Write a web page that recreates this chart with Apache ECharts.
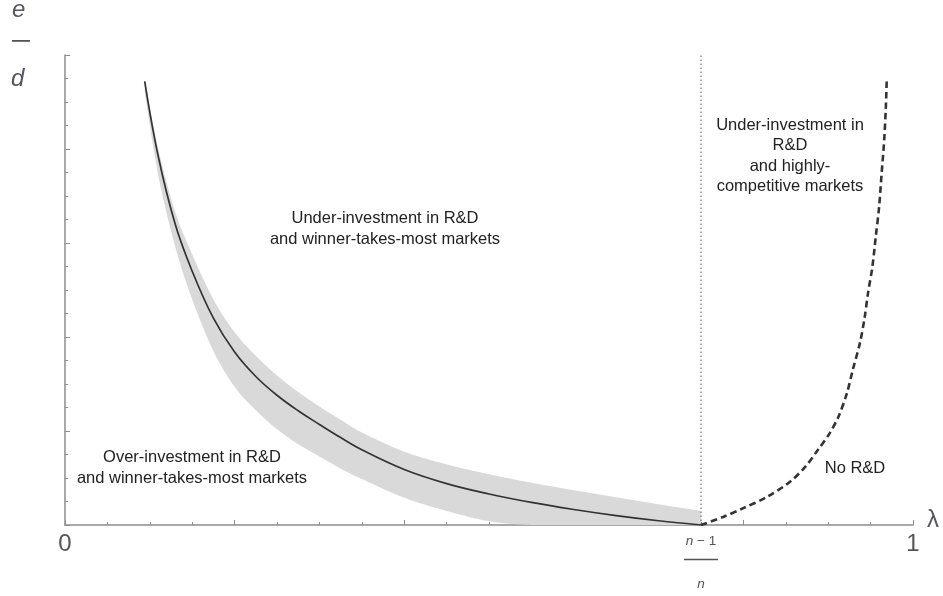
<!DOCTYPE html>
<html>
<head>
<meta charset="utf-8">
<script src="https://cdn.jsdelivr.net/npm/echarts@6/dist/echarts.min.js"></script>
<style>html,body{margin:0;padding:0;background:#fff}#c{width:943px;height:596px}</style>
</head>
<body>
<div id="c"></div>
<script>
// ---- data ----
const thresholdX = 0.75;           // (n-1)/n
const curveX     = [0.094, 0.11, 0.13, 0.15, 0.175, 0.2, 0.225, 0.25, 0.275, 0.3, 0.325, 0.35, 0.4, 0.45, 0.5, 0.55, 0.6, 0.65, 0.7, 0.75];
const curveY     = [4.72, 3.92, 3.20, 2.70, 2.20, 1.84, 1.58, 1.38, 1.215, 1.07, 0.93, 0.80, 0.59, 0.44, 0.33, 0.24, 0.165, 0.10, 0.045, 0];
const bandUpper  = [4.74, 4.00, 3.33, 2.88, 2.40, 2.05, 1.80, 1.59, 1.415, 1.26, 1.12, 0.985, 0.78, 0.645, 0.54, 0.45, 0.37, 0.295, 0.22, 0.15];
const bandLower  = [4.60, 3.72, 2.96, 2.40, 1.85, 1.47, 1.22, 1.02, 0.86, 0.73, 0.60, 0.49, 0.29, 0.15, 0.04, 0, 0, 0, 0, 0];
const dashX      = [0.75, 0.776, 0.8, 0.828, 0.855, 0.873, 0.888, 0.902, 0.912, 0.922, 0.929, 0.9375, 0.943, 0.947, 0.952, 0.956, 0.96, 0.963, 0.966, 0.968, 0.969];
const dashY      = [0, 0.085, 0.18, 0.30, 0.46, 0.62, 0.80, 0.98, 1.15, 1.40, 1.65, 1.94, 2.21, 2.47, 2.74, 3.06, 3.38, 3.74, 4.09, 4.45, 4.73];
const xLabelValues = [0, thresholdX, 1];
const regionTexts = [
  'Under-investment in R&D\nand winner-takes-most markets',
  'Under-investment in\nR&D\nand highly-\ncompetitive markets',
  'Over-investment in R&D\nand winner-takes-most markets',
  'No R&D'
];

// ---- chart ----
const FONT = 'Liberation Sans, Arial, sans-serif';
const zip = (xs, ys) => xs.map((x, i) => [x, ys[i]]);
const chart = echarts.init(document.getElementById('c'), null, {renderer: 'canvas'});
const axisGray = '#8c8c8c';

// Catmull-Rom sampling in pixel space (rendering only)
function spline(pts, steps) {
  const out = [];
  const n = pts.length;
  for (let i = 0; i < n - 1; i++) {
    const p0 = pts[Math.max(i - 1, 0)], p1 = pts[i], p2 = pts[i + 1], p3 = pts[Math.min(i + 2, n - 1)];
    for (let s = 0; s < steps; s++) {
      const t = s / steps, t2 = t * t, t3 = t2 * t;
      const f = (a, b, c, d) => 0.5 * ((2 * b) + (-a + c) * t + (2 * a - 5 * b + 4 * c - d) * t2 + (-a + 3 * b - 3 * c + d) * t3);
      out.push([f(p0[0], p1[0], p2[0], p3[0]), f(p0[1], p1[1], p2[1], p3[1])]);
    }
  }
  out.push(pts[n - 1]);
  return out;
}

chart.setOption({
  animation: false,
  backgroundColor: '#fff',
  grid: {left: 65, right: 30, top: 55, bottom: 71},
  xAxis: {
    type: 'value', min: 0, max: 1, interval: 0.2,
    splitLine: {show: false},
    axisLine: {lineStyle: {color: axisGray, width: 1.5}},
    axisTick: {inside: true, length: 5, lineStyle: {color: axisGray, width: 1}},
    minorTick: {show: true, splitNumber: 4, length: 3, lineStyle: {color: axisGray, width: 1}},
    axisLabel: {
      customValues: xLabelValues,
      margin: 8,
      formatter: function (v) {
        if (Math.abs(v - thresholdX) < 1e-9) return '{ni|n}{num| \u2212 1}\n{bar|}\n{den|n}';
        return '{big|' + String(v) + '}';
      },
      rich: {
        big: {fontSize: 24, lineHeight: 22, color: '#555', fontFamily: FONT},
        ni: {fontSize: 13.5, lineHeight: 17, color: '#555', fontStyle: 'italic', fontFamily: FONT},
        num: {fontSize: 13.5, lineHeight: 17, color: '#555', fontFamily: FONT},
        bar: {width: 34, height: 1.6, backgroundColor: '#555', lineHeight: 19},
        den: {fontSize: 13.5, lineHeight: 30, color: '#555', fontStyle: 'italic', fontFamily: FONT}
      }
    },
    name: '\u03bb',
    nameLocation: 'end',
    nameGap: 14,
    nameTextStyle: {fontSize: 24, color: '#556', fontFamily: FONT, verticalAlign: 'bottom', padding: [0, 0, -7, 0]}
  },
  yAxis: {
    type: 'value', min: 0, max: 5, interval: 1,
    splitLine: {show: false},
    axisLine: {show: true, lineStyle: {color: axisGray, width: 1.5}},
    axisTick: {show: true, inside: true, length: 5, lineStyle: {color: axisGray, width: 1}},
    minorTick: {show: true, splitNumber: 4, length: 3, lineStyle: {color: axisGray, width: 1}},
    axisLabel: {show: false}
  },
  series: [
    {
      type: 'custom', name: 'band', data: [[curveX[0], bandUpper[0]]], clip: true, silent: true, z: 1,
      renderItem: function (params, api) {
        const up = spline(curveX.map((x, i) => api.coord([x, bandUpper[i]])), 14);
        const lo = spline(curveX.map((x, i) => api.coord([x, bandLower[i]])), 14);
        const axisY = api.coord([0, 0])[1];
        const loC = lo.map(p => [p[0], Math.min(p[1], axisY)]).reverse();
        return {type: 'polygon', shape: {points: up.concat(loC)}, style: {fill: '#d9d9d9', stroke: null}};
      }
    },
    {
      type: 'line', name: 'threshold', data: [[thresholdX, 0], [thresholdX, 5]],
      symbol: 'none', lineStyle: {color: '#777', width: 1.3, type: [1.4, 2.6]}, z: 3
    },
    {
      type: 'line', name: 'curve', data: zip(curveX, curveY),
      smooth: 0.4, symbol: 'none', lineStyle: {color: '#333', width: 1.7}, z: 4
    },
    {
      type: 'line', name: 'noRD', data: zip(dashX, dashY),
      smooth: 0.3, symbol: 'none', lineStyle: {color: '#333', width: 2.6, type: [6.5, 4]}, z: 4
    }
  ],
  graphic: [
    {type: 'text', z: 10, left: 12, top: -2, style: {text: 'e', font: 'italic 24px ' + FONT, fill: '#556'}},
    {type: 'rect', z: 10, shape: {x: 12, y: 40, width: 18, height: 1.8}, style: {fill: '#555'}},
    {type: 'text', z: 10, left: 11, top: 67, style: {text: 'd', font: 'italic 24px ' + FONT, fill: '#556'}},
    {type: 'text', z: 10, x: 385, y: 229, style: {text: regionTexts[0], font: '16.5px ' + FONT, fill: '#222', align: 'center', verticalAlign: 'middle', lineHeight: 21}},
    {type: 'text', z: 10, x: 790, y: 156, style: {text: regionTexts[1], font: '16.5px ' + FONT, fill: '#222', align: 'center', verticalAlign: 'middle', lineHeight: 20.5}},
    {type: 'text', z: 10, x: 192, y: 468, style: {text: regionTexts[2], font: '16.5px ' + FONT, fill: '#222', align: 'center', verticalAlign: 'middle', lineHeight: 20.7}},
    {type: 'text', z: 10, x: 855, y: 468, style: {text: regionTexts[3], font: '16.5px ' + FONT, fill: '#222', align: 'center', verticalAlign: 'middle'}}
  ]
});
</script>
</body>
</html>
